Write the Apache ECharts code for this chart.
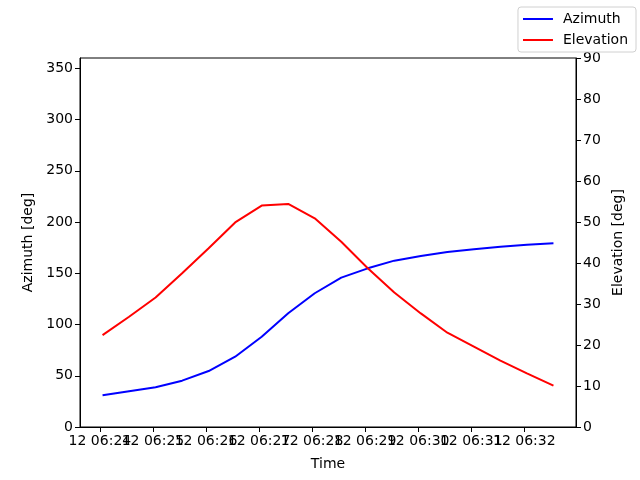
<!DOCTYPE html>
<html>
<head>
<meta charset="utf-8">
<script src="https://cdn.jsdelivr.net/npm/echarts@6/dist/echarts.min.js"></script>
<style>
  html, body { margin: 0; padding: 0; background: #fff; }
  #chart { width: 640px; height: 480px; }
</style>
</head>
<body>
<div id="chart"></div>
<script>
// Pass data (times on the 12th)
var times = ['06:24:03', '06:24:33', '06:25:03', '06:25:33', '06:26:03', '06:26:33',
  '06:27:03', '06:27:33', '06:28:03', '06:28:33', '06:29:03', '06:29:33',
  '06:30:03', '06:30:33', '06:31:03', '06:31:33', '06:32:03', '06:32:33'];
var azimuth = [30.9, 34.8, 38.7, 45.2, 54.6, 68.6, 88.1, 110.9, 130.5,
  145.7, 154.8, 162.3, 166.8, 170.7, 173.4, 175.9, 177.9, 179.2];
var elevation = [22.4, 26.9, 31.6, 37.5, 43.6, 49.9, 54.0, 54.4, 50.9,
  45.2, 38.7, 32.8, 27.7, 23.0, 19.6, 16.2, 13.1, 10.1];
var xTicks = ['06:24', '06:25', '06:26', '06:27', '06:28', '06:29', '06:30', '06:31', '06:32'];
var dayLabel = '12';

(function () {
  'use strict';

  function toSec(t) {
    var p = t.split(':');
    return (+p[0]) * 3600 + (+p[1]) * 60 + (+(p[2] || 0));
  }

  var secs = times.map(toSec);
  var span = secs[secs.length - 1] - secs[0];
  var xMin = secs[0] - span * 0.05;
  var xMax = secs[secs.length - 1] + span * 0.05;
  var tickSecs = xTicks.map(toSec);
  // labels overlap like in the original, so split them over two axes
  // (one axis alone drops the overlapping ones)
  var evenTicks = tickSecs.filter(function (v, i) { return i % 2 === 0; });
  var oddTicks = tickSecs.filter(function (v, i) { return i % 2 === 1; });

  var font = 'DejaVu Sans';
  var fs = 14;
  var chart = echarts.init(document.getElementById('chart'), null, { renderer: 'canvas' });

  function tickText(v) {
    var i = tickSecs.indexOf(v);
    return i >= 0 ? dayLabel + ' ' + xTicks[i] : '';
  }

  function xAxisFor(values, main) {
    return {
      type: 'value',
      position: 'bottom',
      offset: 0,
      min: xMin,
      max: xMax,
      name: main ? 'Time' : '',
      nameLocation: 'middle',
      nameGap: 30,
      nameTextStyle: { color: '#000', fontSize: fs, fontFamily: font },
      axisLine: { show: main, onZero: false, lineStyle: { color: '#000' } },
      axisTick: { show: main, length: 5, customValues: tickSecs, lineStyle: { color: '#000' } },
      axisLabel: {
        color: '#000', fontSize: fs, fontFamily: font, margin: 7,
        customValues: values,
        showMinLabel: true,
        showMaxLabel: true,
        formatter: tickText
      },
      splitLine: { show: false }
    };
  }

  var yAxisCommon = {
    type: 'value',
    nameLocation: 'middle',
    nameTextStyle: { color: '#000', fontSize: fs, fontFamily: font },
    axisLine: { show: true, lineStyle: { color: '#000', width: 1 } },
    axisTick: { show: true, length: 5, lineStyle: { color: '#000' } },
    axisLabel: { color: '#000', fontSize: fs, fontFamily: font, margin: 7 },
    splitLine: { show: false }
  };

  chart.setOption({
    backgroundColor: '#fff',
    animation: false,
    grid: {
      left: 80, right: 64, top: 58, bottom: 53,
      show: true, borderColor: '#000', borderWidth: 1, backgroundColor: 'transparent'
    },
    legend: {
      orient: 'vertical',
      right: 4,
      top: 7,
      padding: [5, 8, 5, 5],
      itemGap: 7,
      itemWidth: 30,
      itemHeight: 2,
      icon: 'rect',
      backgroundColor: '#fff',
      borderColor: '#d0d0d0',
      borderWidth: 1,
      borderRadius: 3,
      textStyle: { color: '#000', fontSize: fs, fontFamily: font, padding: [0, 0, 0, 5] },
      data: ['Azimuth', 'Elevation']
    },
    xAxis: [xAxisFor(evenTicks, true), xAxisFor(oddTicks, false)],
    yAxis: [
      Object.assign({}, yAxisCommon, {
        name: 'Azimuth [deg]',
        nameGap: 43,
        min: 0,
        max: 360,
        interval: 50,
        position: 'left',
        axisLabel: Object.assign({}, yAxisCommon.axisLabel, { showMaxLabel: false })
      }),
      Object.assign({}, yAxisCommon, {
        name: 'Elevation [deg]',
        nameGap: 33,
        nameRotate: 90,
        min: 0,
        max: 90,
        interval: 10,
        position: 'right'
      })
    ],
    series: [
      {
        name: 'Azimuth',
        type: 'line',
        xAxisIndex: 0,
        yAxisIndex: 0,
        data: secs.map(function (s, i) { return [s, azimuth[i]]; }),
        showSymbol: false,
        symbol: 'none',
        lineStyle: { color: '#0000ff', width: 2 },
        itemStyle: { color: '#0000ff' }
      },
      {
        name: 'Elevation',
        type: 'line',
        xAxisIndex: 0,
        yAxisIndex: 1,
        data: secs.map(function (s, i) { return [s, elevation[i]]; }),
        showSymbol: false,
        symbol: 'none',
        lineStyle: { color: '#ff0000', width: 2 },
        itemStyle: { color: '#ff0000' }
      }
    ]
  });
})();
</script>
</body>
</html>
